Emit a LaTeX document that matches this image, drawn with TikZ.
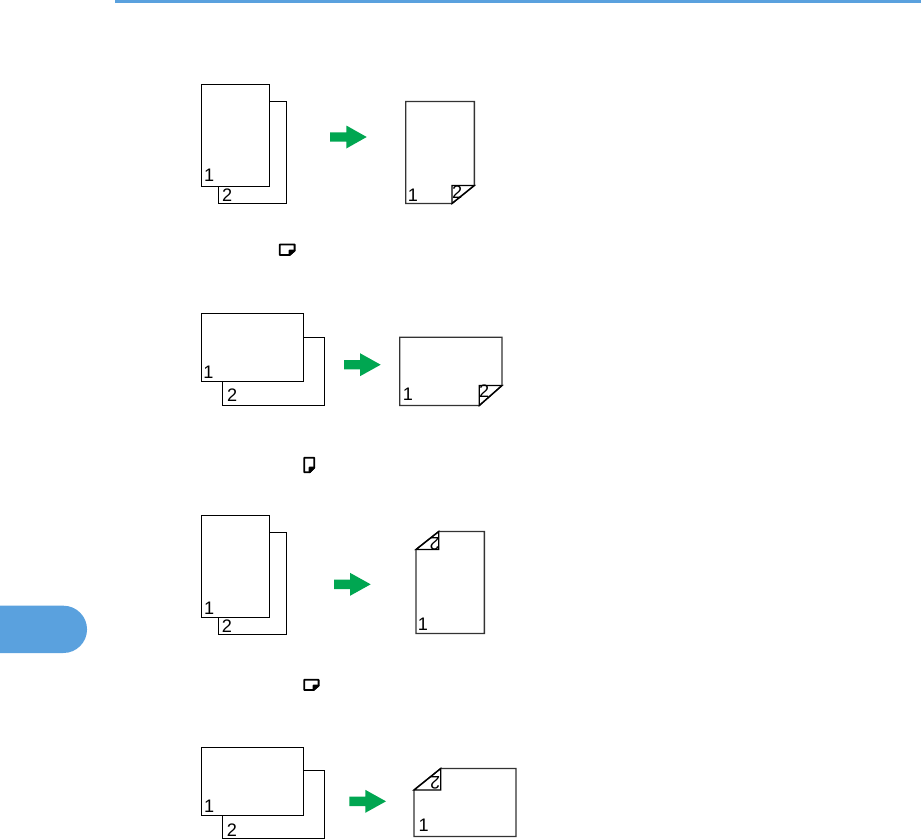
\documentclass[tikz,border=0pt]{standalone}
\usepackage{fontspec}
\setmainfont{Liberation Sans}
\definecolor{tabblue}{HTML}{5AA1DE}
\definecolor{arrowgreen}{HTML}{00A651}
\tikzset{
  x=0.75pt,y=-0.75pt,
  sheet/.style={draw=black,fill=white,line width=0.95pt,line join=miter},
  outsheet/.style={draw=black!80,fill=white,line width=1.05pt,line join=miter},
  foldline/.style={draw=black,line width=1pt,line join=miter},
  num/.style={inner sep=0pt,font=\fontsize{13.6pt}{13.6pt}\selectfont},
  numflip/.style={num,rotate=180},
  bigarrow/.style={fill=arrowgreen,draw=none},
  icon/.style={draw=black,fill=white,line width=1.4pt,line join=round},
}
\newcommand{\grnarrow}[3]{% x start, y center, head start
  \fill[bigarrow] (#1,#2-4.7) -- (#3,#2-4.7) -- (#3,#2-11.5) -- (#1+36.7,#2) -- (#3,#2+11.5) -- (#3,#2+4.7) -- (#1,#2+4.7) -- cycle;}
\begin{document}
\begin{tikzpicture}
\useasboundingbox (0,0) rectangle (921,839);
% page furniture
\fill[tabblue] (115,0) rectangle (921,3);
\fill[tabblue] (0,605.7) -- (63.4,605.7) arc[start angle=90,end angle=-90,x radius=23.65,y radius=-23.65] -- (0,653) -- cycle;

% set 1
\draw[sheet] (218.5,101.5) rectangle (286.5,203.5);
\draw[sheet] (201.5,84.5) rectangle (269.5,186.5);
\node[num] (a1) at (209.2,175.7) {1};
\node[num] (a2) at (227.2,195) {2};
\grnarrow{330}{137}{346.3}
\draw[outsheet] (405.7,101.5) -- (474.3,101.5) -- (474.3,185.5) -- (452,203.5) -- (405.7,203.5) -- cycle;
\node[num] (a3) at (413,195) {1};
\node[num] (a4) at (457.2,191.7) {2};
\draw[foldline] (452,203.5) -- (452,185.5) -- (474.3,185.5) -- cycle;
\draw[icon] (279.8,244.5) -- (294.6,244.5) -- (294.6,250.5) -- (289.5,255) -- (279.8,255) -- cycle;
\draw[icon,fill=black] (289.5,255) -- (289.5,250.5) -- (294.6,250.5) -- cycle;

% set 2
\draw[sheet] (222.5,337.5) rectangle (324.5,405.5);
\draw[sheet] (201.5,313.5) rectangle (303.5,381.5);
\node[num] (b1) at (208.5,372.3) {1};
\node[num] (b2) at (232.2,394.7) {2};
\grnarrow{344}{364.7}{360}
\draw[outsheet] (399.7,337.2) -- (502,337.2) -- (502,385.5) -- (479.3,405.5) -- (399.7,405.5) -- cycle;
\node[num] (b3) at (408,394.3) {1};
\node[num] (b4) at (484.2,391.3) {2};
\draw[foldline] (479.3,405.5) -- (479.3,385.5) -- (502,385.5) -- cycle;
\draw[icon] (304.2,457.8) -- (314.2,457.8) -- (314.2,467.5) -- (309.5,472.2) -- (304.2,472.2) -- cycle;
\draw[icon,fill=black] (309.5,472.2) -- (309.5,467.5) -- (314.2,467.5) -- cycle;

% set 3
\draw[sheet] (218.5,532.5) rectangle (286.5,634.5);
\draw[sheet] (201.5,515.5) rectangle (269.5,617.5);
\node[num] (c1) at (209.2,608.3) {1};
\node[num] (c2) at (226.8,626.3) {2};
\grnarrow{334}{584.3}{350}
\draw[outsheet] (438.7,531.5) -- (484.3,531.5) -- (484.3,633.5) -- (416,633.5) -- (416,549.5) -- cycle;
\node[numflip] (c3) at (434.5,544) {2};
\draw[foldline] (416,549.5) -- (438.7,549.5) -- (438.7,531.5) -- cycle;
\node[num] (c4) at (423,624) {1};
\draw[icon] (304.2,679.8) -- (318.6,679.8) -- (318.6,685.5) -- (313.5,690) -- (304.2,690) -- cycle;
\draw[icon,fill=black] (313.5,690) -- (313.5,685.5) -- (318.6,685.5) -- cycle;

% set 4
\draw[sheet] (222.5,770.5) rectangle (324.5,838.5);
\draw[sheet] (201.5,747.5) rectangle (303.5,815.5);
\node[num] (d1) at (209.2,806) {1};
\node[num] (d2) at (231.8,829.7) {2};
\grnarrow{349.3}{801.3}{365.3}
\draw[outsheet] (440.7,768.5) -- (516,768.5) -- (516,836.5) -- (414,836.5) -- (414,790) -- cycle;
\node[numflip] (d3) at (435.2,782.7) {2};
\draw[foldline] (414,790) -- (440.7,790) -- (440.7,768.5) -- cycle;
\node[num] (d4) at (423.7,825.7) {1};
\end{tikzpicture}
\end{document}
